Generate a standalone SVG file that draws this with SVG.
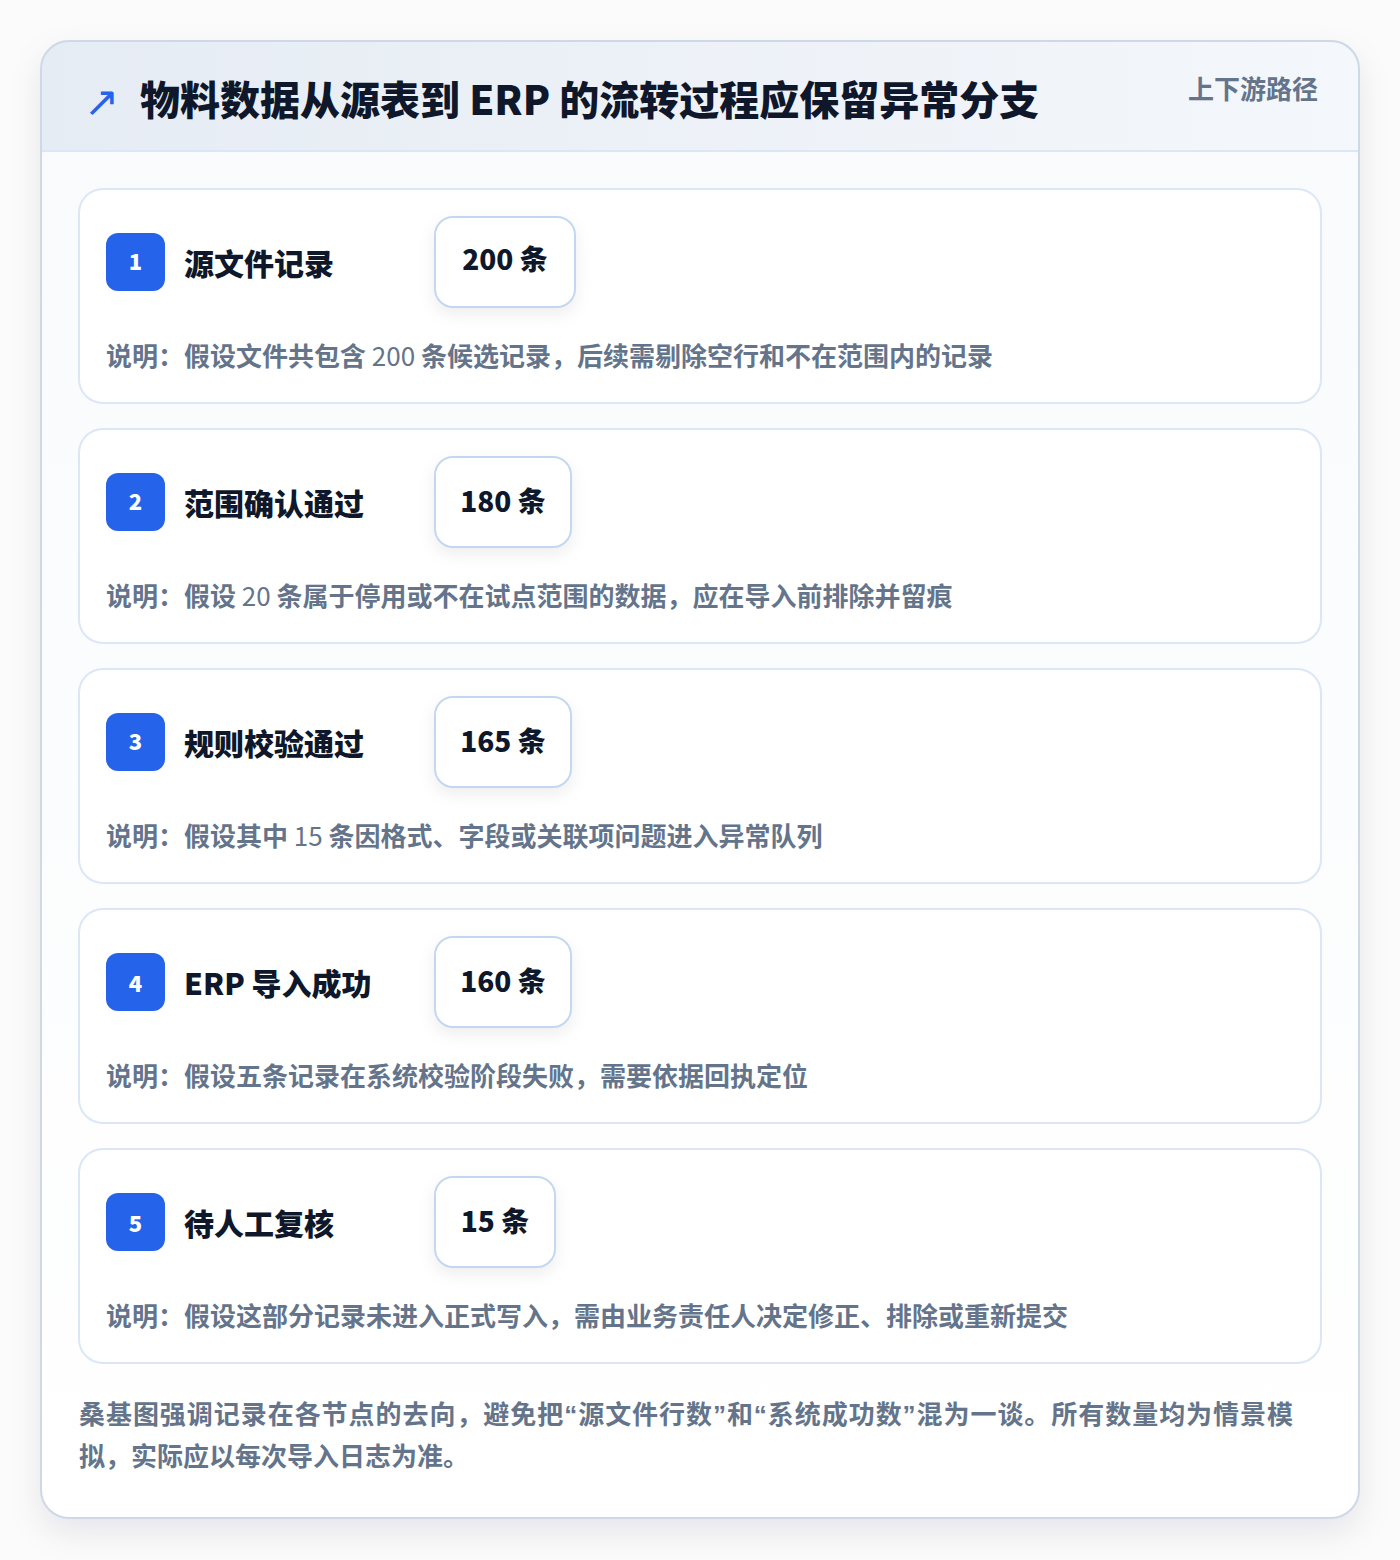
<svg xmlns="http://www.w3.org/2000/svg" width="1400" height="1560" viewBox="0 0 1400 1560">
<defs>
<style>
.cjk{font-family:"Noto Sans CJK SC","Noto Sans",sans-serif}
.title{font-size:40px;font-weight:900;fill:#0f172a}
.tag{font-size:26px;font-weight:700;fill:#64748b}
.card{fill:#ffffff;stroke:#dbe7f7;stroke-width:2}
.badge{fill:#2563eb}
.bnum{font-size:22px;font-weight:900;fill:#ffffff}
.name{font-size:30px;font-weight:900;fill:#0f172a}
.pill{fill:#ffffff;stroke:#c3d7f1;stroke-width:2}
.cnt{font-size:28px;font-weight:900;fill:#0f172a}
.desc{font-size:26px;font-weight:700;fill:#64748b}
.num{font-weight:400}
.foot{font-size:26px;font-weight:700;fill:#64748b}
.q{font-family:"Liberation Sans",sans-serif}
</style>
<linearGradient id="hdr" x1="0" y1="0" x2="1" y2="0">
<stop offset="0" stop-color="#e6ecf4"/>
<stop offset="1" stop-color="#f4f7fb"/>
</linearGradient>
<linearGradient id="body" x1="0" y1="0" x2="0" y2="1">
<stop offset="0" stop-color="#f8fafc"/>
<stop offset="1" stop-color="#ffffff"/>
</linearGradient>
<filter id="sh" x="-10%" y="-10%" width="120%" height="120%">
<feDropShadow dx="0" dy="14" stdDeviation="16" flood-color="#0f172a" flood-opacity="0.09"/>
</filter>
<filter id="psh" x="-30%" y="-30%" width="160%" height="170%">
<feDropShadow dx="0" dy="6" stdDeviation="8" flood-color="#0f172a" flood-opacity="0.07"/>
</filter>
<clipPath id="outer"><rect x="41" y="41" width="1318" height="1477" rx="28"/></clipPath>
</defs>
<rect width="1400" height="1560" fill="#fbfbfc"/>
<g id="frame">
<rect x="41" y="41" width="1318" height="1477" rx="28" fill="url(#body)" filter="url(#sh)"/>
<g clip-path="url(#outer)">
<rect x="41" y="41" width="1318" height="110" fill="url(#hdr)"/>
<line x1="41" y1="151" x2="1359" y2="151" stroke="#dce7f5" stroke-width="2"/>
</g>
<rect x="41" y="41" width="1318" height="1477" rx="28" fill="none" stroke="#cfd8e6" stroke-width="2"/>
</g>
<g id="header">
<text x="84" y="116" font-family="DejaVu Sans, sans-serif" font-size="42" fill="#2563eb">↗</text>
<text x="140" y="115" class="cjk title">物料数据从源表到 ERP 的流转过程应保留异常分支</text>
<text x="1318" y="99" text-anchor="end" class="cjk tag">上下游路径</text>
</g>
<g id="node1">
<rect x="79" y="189" width="1242" height="214" rx="24" class="card"/>
<rect x="106" y="233" width="59" height="58" rx="12" class="badge"/>
<text x="135.5" y="270" text-anchor="middle" class="cjk bnum">1</text>
<text x="184" y="275" class="cjk name">源文件记录</text>
<rect x="435" y="217" width="140" height="90" rx="18" class="pill" filter="url(#psh)"/>
<text x="505" y="270" text-anchor="middle" class="cjk cnt">200 条</text>
<text x="106" y="366" class="cjk desc">说明：假设文件共包含<tspan class="num"> 200 </tspan>条候选记录，后续需剔除空行和不在范围内的记录</text>
</g>
<g id="node2">
<rect x="79" y="429" width="1242" height="214" rx="24" class="card"/>
<rect x="106" y="473" width="59" height="58" rx="12" class="badge"/>
<text x="135.5" y="510" text-anchor="middle" class="cjk bnum">2</text>
<text x="184" y="515" class="cjk name">范围确认通过</text>
<rect x="435" y="457" width="136" height="90" rx="18" class="pill" filter="url(#psh)"/>
<text x="503" y="512" text-anchor="middle" class="cjk cnt">180 条</text>
<text x="106" y="606" class="cjk desc">说明：假设<tspan class="num"> 20 </tspan>条属于停用或不在试点范围的数据，应在导入前排除并留痕</text>
</g>
<g id="node3">
<rect x="79" y="669" width="1242" height="214" rx="24" class="card"/>
<rect x="106" y="713" width="59" height="58" rx="12" class="badge"/>
<text x="135.5" y="750" text-anchor="middle" class="cjk bnum">3</text>
<text x="184" y="755" class="cjk name">规则校验通过</text>
<rect x="435" y="697" width="136" height="90" rx="18" class="pill" filter="url(#psh)"/>
<text x="503" y="752" text-anchor="middle" class="cjk cnt">165 条</text>
<text x="106" y="846" class="cjk desc">说明：假设其中<tspan class="num"> 15 </tspan>条因格式、字段或关联项问题进入异常队列</text>
</g>
<g id="node4">
<rect x="79" y="909" width="1242" height="214" rx="24" class="card"/>
<rect x="106" y="953" width="59" height="58" rx="12" class="badge"/>
<text x="135.5" y="992" text-anchor="middle" class="cjk bnum">4</text>
<text x="184" y="995" class="cjk name">ERP 导入成功</text>
<rect x="435" y="937" width="136" height="90" rx="18" class="pill" filter="url(#psh)"/>
<text x="503" y="992" text-anchor="middle" class="cjk cnt">160 条</text>
<text x="106" y="1086" class="cjk desc">说明：假设五条记录在系统校验阶段失败，需要依据回执定位</text>
</g>
<g id="node5">
<rect x="79" y="1149" width="1242" height="214" rx="24" class="card"/>
<rect x="106" y="1193" width="59" height="58" rx="12" class="badge"/>
<text x="135.5" y="1232" text-anchor="middle" class="cjk bnum">5</text>
<text x="184" y="1235" class="cjk name">待人工复核</text>
<rect x="435" y="1177" width="120" height="90" rx="18" class="pill" filter="url(#psh)"/>
<text x="495" y="1232" text-anchor="middle" class="cjk cnt">15 条</text>
<text x="106" y="1326" class="cjk desc">说明：假设这部分记录未进入正式写入，需由业务责任人决定修正、排除或重新提交</text>
</g>
<g id="connectors"/>
<g id="footer">
<text x="79" y="1424" class="cjk foot" textLength="1214" lengthAdjust="spacing">桑基图强调记录在各节点的去向，避免把<tspan class="q">“</tspan>源文件行数<tspan class="q">”</tspan>和<tspan class="q">“</tspan>系统成功数<tspan class="q">”</tspan>混为一谈。所有数量均为情景模</text>
<text x="79" y="1466" class="cjk foot">拟，实际应以每次导入日志为准。</text>
</g>
</svg>
